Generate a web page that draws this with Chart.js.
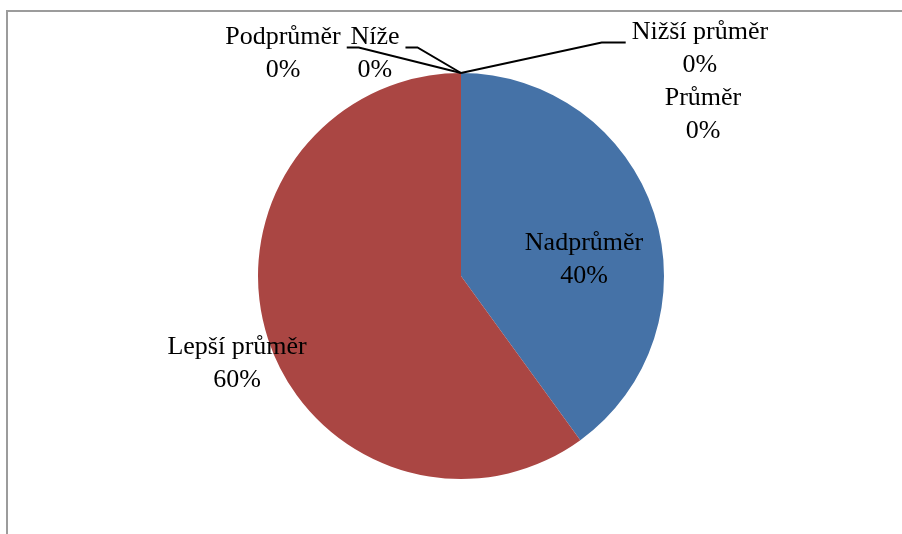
<!DOCTYPE html>
<html>
<head>
<meta charset="utf-8">
<script src="https://cdn.jsdelivr.net/npm/chart.js@4"></script>
<style>
  html, body { margin: 0; padding: 0; background: #fff; overflow: hidden; }
  #wrap { position: relative; width: 902px; height: 534px; }
  #frame { position: absolute; left: 6px; top: 10px; width: 1000px; height: 1000px;
           border: 2px solid #9c9c9c; box-sizing: border-box; }
  canvas { position: absolute; left: 0; top: 0; }
</style>
</head>
<body>
<div id="wrap">
  <div id="frame"></div>
  <canvas id="pie" width="902" height="534"></canvas>
</div>
<script>
// --- data ---
const categories = ['Nadprůměr', 'Lepší průměr', 'Nižší průměr', 'Průměr', 'Podprůměr', 'Níže'];
const shares = [40, 60, 0, 0, 0, 0];
const sliceColors = ['#4572A7', '#AA4643', '#89A54E', '#71588F', '#4198AF', '#DB843D'];

// label block centres, in units of the pie radius from its centre
const labelOffsets = [
  [0.606, -0.079],
  [-1.103, 0.433],
  [1.177, -1.118],
  [1.192, -0.795],
  [-0.877, -1.094],
  [-0.424, -1.094]
];
// leader line: which side of the label it leaves from, and the flat stub length
const leaders = [null, null, { side: 'left', stub: 24 }, null, { side: 'right', stub: 12 }, { side: 'right', stub: 12 }];

const FONT = '26px "Liberation Serif", "Times New Roman", serif';
const LINE_H = 33;

const pieLabels = {
  id: 'pieLabels',
  afterDatasetsDraw(chart) {
    const ctx = chart.ctx;
    const arcs = chart.getDatasetMeta(0).data;
    const total = shares.reduce((a, b) => a + b, 0);
    ctx.save();
    ctx.font = FONT;
    ctx.fillStyle = '#000';
    ctx.strokeStyle = '#000';
    ctx.lineWidth = 2;
    ctx.textAlign = 'center';
    ctx.textBaseline = 'middle';
    arcs.forEach((arc, i) => {
      const { x, y, outerRadius, startAngle } = arc.getProps(['x', 'y', 'outerRadius', 'startAngle'], true);
      const cx = x + labelOffsets[i][0] * outerRadius;
      const cy = y + labelOffsets[i][1] * outerRadius;
      const lines = [categories[i], Math.round(shares[i] / total * 100) + '%'];
      ctx.fillText(lines[0], cx, cy - LINE_H / 2);
      ctx.fillText(lines[1], cx, cy + LINE_H / 2);

      const ld = leaders[i];
      if (ld) {
        const w = Math.max(...lines.map(t => ctx.measureText(t).width));
        const ay = cy - LINE_H / 2 + 10;
        const sx = ld.side === 'right' ? cx + w / 2 + 6 : cx - w / 2 - 6;
        const ex = ld.side === 'right' ? sx + ld.stub : sx - ld.stub;
        const px = x + outerRadius * Math.cos(startAngle);
        const py = y + outerRadius * Math.sin(startAngle);
        ctx.beginPath();
        ctx.moveTo(sx, ay);
        ctx.lineTo(ex, ay);
        ctx.lineTo(px, py);
        ctx.stroke();
      }
    });
    ctx.restore();
  }
};

new Chart(document.getElementById('pie').getContext('2d'), {
  type: 'pie',
  data: {
    labels: categories,
    datasets: [{
      data: shares,
      backgroundColor: sliceColors,
      borderWidth: 0,
      hoverBorderWidth: 0,
      hoverOffset: 0
    }]
  },
  options: {
    responsive: false,
    animation: false,
    events: [],
    layout: { padding: { top: 73, bottom: 55, left: 20, right: 0 } },
    plugins: {
      legend: { display: false },
      tooltip: { enabled: false }
    }
  },
  plugins: [pieLabels]
});
</script>
</body>
</html>
